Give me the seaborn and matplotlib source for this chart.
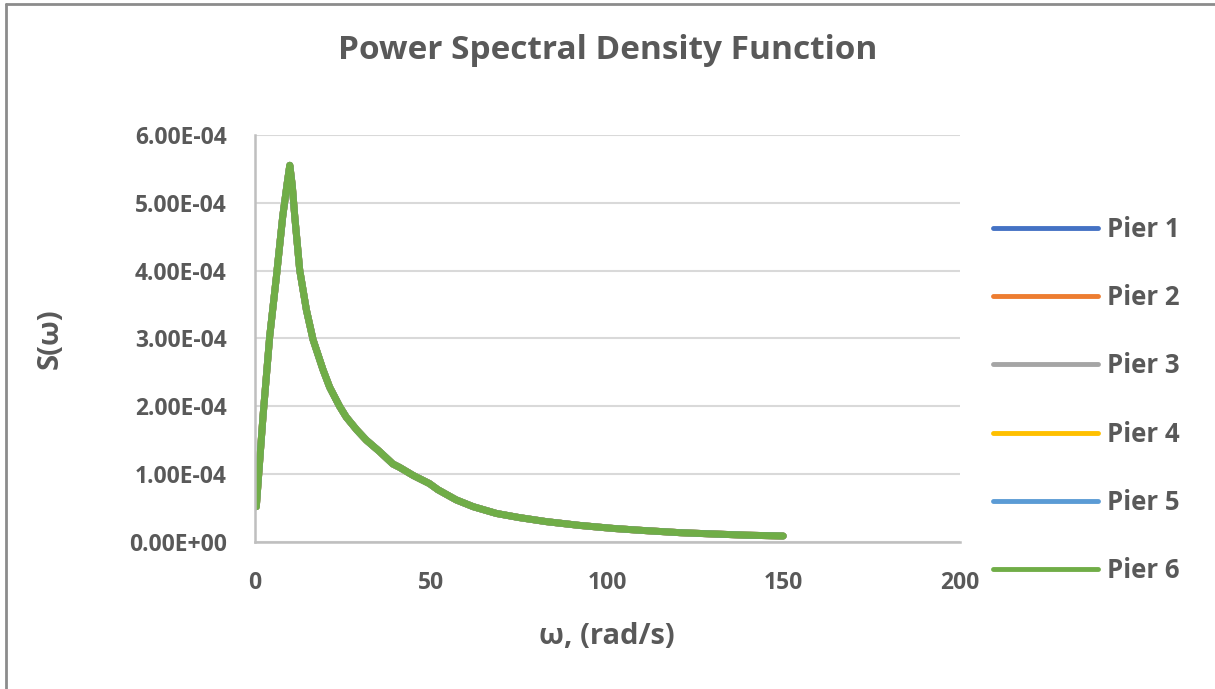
import numpy as np
import pandas as pd
import seaborn as sns
import matplotlib.pyplot as plt
from matplotlib.ticker import FuncFormatter
from matplotlib.lines import Line2D

# ==============================
# Data
# ==============================
omega = [0.5, 2.4, 4.3, 6.2, 8.0, 9.3, 10.0,
         10.7, 11.4, 12.8, 14.7, 16.6, 19.4, 21.3, 24.1, 26.0, 29.0, 31.7, 35.5, 39.2, 41.1,
         45.0, 49.6, 52.0, 57.2, 62.0, 68.6, 75.0, 82.7, 92.0, 101.6,
         110.0, 120.6, 130.0, 139.5, 149.9]
psd = [5.2e-05, 1.85e-04, 3.03e-04, 3.91e-04, 4.80e-04, 5.30e-04, 5.55e-04,
       5.25e-04, 4.80e-04, 4.01e-04, 3.42e-04, 2.98e-04, 2.54e-04, 2.28e-04, 2.00e-04, 1.84e-04, 1.65e-04, 1.50e-04, 1.33e-04, 1.15e-04, 1.10e-04,
       9.80e-05, 8.60e-05, 7.70e-05, 6.20e-05, 5.20e-05, 4.20e-05, 3.60e-05, 3.00e-05, 2.45e-05, 2.00e-05,
       1.70e-05, 1.37e-05, 1.18e-05, 1.00e-05, 8.8e-06]

piers = ["Pier 1", "Pier 2", "Pier 3", "Pier 4", "Pier 5", "Pier 6"]
colors = ["#4472C4", "#ED7D31", "#A5A5A5", "#FFC000", "#5B9BD5", "#70AD47"]

x_ticks = [0, 50, 100, 150, 200]
y_ticks = [0, 1e-4, 2e-4, 3e-4, 4e-4, 5e-4, 6e-4]

# all piers share the same spectrum, so they overlay each other
df = pd.concat([pd.DataFrame({"omega": omega, "S": psd, "pier": p}) for p in piers],
               ignore_index=True)

# ==============================
# Plot
# ==============================
sns.set_theme(style="white")
plt.rcParams["font.family"] = ["Open Sans", "DejaVu Sans"]
txt = "#595959"

fig = plt.figure(figsize=(12.15, 6.89), dpi=100)
ax = fig.add_axes([0.2095, 0.2134, 0.5805, 0.5910])

sns.lineplot(data=df, x="omega", y="S", hue="pier", palette=colors,
             linewidth=5, ax=ax, legend=False, solid_capstyle="round",
             solid_joinstyle="round")

ax.set_xlim(0, 200)
ax.set_ylim(0, 6e-4)
ax.set_xticks(x_ticks)
ax.set_yticks(y_ticks)
ax.yaxis.set_major_formatter(FuncFormatter(lambda v, p: f"{v:.2E}"))
ax.tick_params(axis="y", length=0, labelsize=16.5, labelcolor=txt, pad=20)
ax.tick_params(axis="x", length=0, labelsize=16.5, labelcolor=txt, pad=21)
for lab in ax.get_xticklabels() + ax.get_yticklabels():
    lab.set_fontweight("bold")

ax.grid(axis="y", color="#d9d9d9", linewidth=1.5)
ax.set_axisbelow(True)
for s in ["top", "right"]:
    ax.spines[s].set_visible(False)
for s in ["left", "bottom"]:
    ax.spines[s].set_color("#bfbfbf")
    ax.spines[s].set_linewidth(1.8)

ax.set_xlabel("ω, (rad/s)", fontsize=21, fontweight="bold", color=txt, labelpad=19)
ax.set_ylabel("S(ω)", fontsize=21, fontweight="bold", color=txt, labelpad=46)
fig.suptitle("Power Spectral Density Function", fontsize=24, fontweight="bold",
             color=txt, y=0.95)

handles = [Line2D([0], [0], color=c, linewidth=3.5, solid_capstyle="round") for c in colors]
leg = fig.legend(handles, piers, loc="center left", bbox_to_anchor=(0.817, 0.4195),
                 frameon=False, fontsize=18.5, labelspacing=1.6, handlelength=4.1,
                 handletextpad=0.35, borderpad=0, borderaxespad=0)
for t in leg.get_texts():
    t.set_color(txt)
    t.set_fontweight("bold")

# thin border on left and top like the exported chart area
fig.add_artist(Line2D([0.005, 0.005], [0, 0.994], transform=fig.transFigure, color="#8c8c8c", linewidth=2))
fig.add_artist(Line2D([0.005, 1], [0.994, 0.994], transform=fig.transFigure, color="#8c8c8c", linewidth=2))

fig.savefig("out.png", dpi=100)
